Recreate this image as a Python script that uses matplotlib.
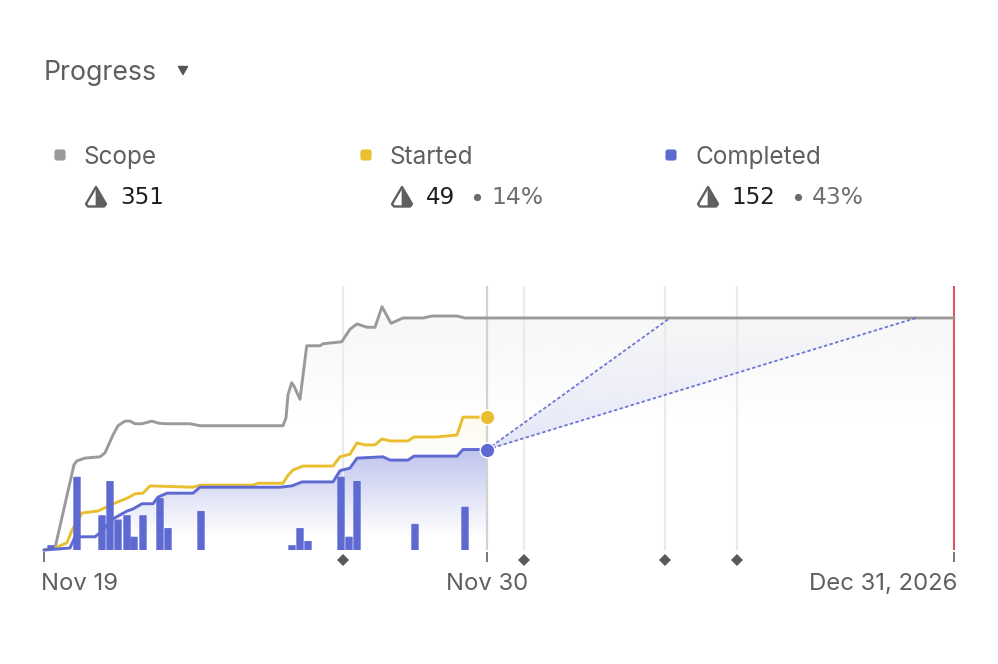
import numpy as np
import matplotlib
matplotlib.use("Agg")
import matplotlib.pyplot as plt
from matplotlib.patches import Polygon, FancyBboxPatch
from matplotlib.colors import LinearSegmentedColormap

plt.rcParams['font.family'] = ['Inter', 'DejaVu Sans']

# ---- data (x = position on the non-linear timeline)
scope_x = [44,55,74,77,85,100,105,113,118,125,130,135,142,152,158,165,190,200,283,286,288,291.7,294,300,306.7,320,323,341.7,350,357,367,375,382,391,403,423,432,457,465,954]
scope_y = [0,3,129,135,139,141,147,174,188,195,195,191,191,195,192,191,191,188,188,200,235,253,248,228,309,309,312,315,334,342,337,337,368,343,351,351,354,354,351,351]
started_x = [44,58,67,72,82,98,115,128,135,143,150,193,200,253,258,283,288,293,303,333,340,350,357,365,375,382,390,408,414,437,457,463,487]
started_y = [0,5,11,30,56,59,71,79,85,86,97,95,98,98,101,101,113,121,127,127,141,145,162,159,159,168,165,165,171,171,174,201,201]
completed_x = [44,70,75,95,100,113,127,133,142,153,158,167,193,200,280,292,302,333,340,350,357,383,390,408,414,457,463,487]
completed_y = [0,3,20,20,26,47,59,62,70,70,80,86,86,95,95,97,103,103,120,124,139,141,136,136,142,142,152,152]
bar_x = [51,77,102,110,118,127,134,143,160,168,201,292,300,308,341,349,357,415,465]
bar_v = [1,17,8,16,7,8,3,8,12,5,9,1,5,2,17,3,16,6,10]
milestones = [343,524,665,737]
today = 487
start = 44
end = 954
proj_fast_x = 670
proj_slow_x = 916
total = 351
tick_pos = [44,487,954]
tick_lbl = ['Nov 19','Nov 30','Dec 31, 2026']
legend_names = ['Scope','Started','Completed']
legend_vals = ['351','49','152']
legend_pcts = [None,'14%','43%']

GREY='#9a9a9a'; YEL='#e9bf2f'; BLUE='#5e6ad2'; RED='#e0585c'; TXT='#5f5f5f'

W,H=998,664
fig=plt.figure(figsize=(W/100,H/100),dpi=100,facecolor='white')
ax=fig.add_axes([44/W,1-550/H,(954-44)/W,264/H])
ymax=264/0.661
ax.set_xlim(44,954); ax.set_ylim(0,ymax); ax.axis('off')
ax2=ax.twinx(); ax2.set_ylim(0,264/4.28); ax2.axis('off')

def grad(a,xs,ys,color,a_hi,a_lo,y_hi,y_lo,z):
    """vertical alpha gradient: a_hi at value y_hi, a_lo at value y_lo"""
    c=matplotlib.colors.to_rgb(color)
    cm=LinearSegmentedColormap.from_list('g',[(*c,a_hi),(*c,a_lo)])
    im=a.imshow(np.linspace(0,1,128)[:,None],extent=(44,954,y_lo,y_hi),aspect='auto',cmap=cm,
                vmin=0,vmax=1,zorder=z,origin='upper')
    p=Polygon(list(zip(xs,ys)),closed=True,transform=a.transData,fc='none',ec='none')
    a.add_patch(p); im.set_clip_path(p)
    a.set_xlim(44,954); a.set_ylim(0,ymax)

grad(ax,[44]+scope_x+[954],[0]+scope_y+[0],'#8a8a8a',0.07,0,351,190,1)
grad(ax,started_x+completed_x[::-1],started_y+completed_y[::-1],YEL,0.08,0,201,130,1.5)
grad(ax,completed_x+[487,44],completed_y+[0,0],BLUE,0.40,0,152,20,2)
grad(ax,[today,proj_fast_x,proj_slow_x],[152,total,total],BLUE,0.0,0.17,351,152,2)

for m in milestones:
    ax.plot([m,m],[0,ymax],color='#ebebeb',lw=1.6,zorder=2.5,solid_capstyle='butt')
ax.plot([today,today],[0,ymax],color='#d2d2d2',lw=1.6,zorder=2.5,solid_capstyle='butt')
ax.plot([end,end],[0,ymax],color=RED,lw=1.5,zorder=3,solid_capstyle='butt',clip_on=False)

kw=dict(lw=2.1,solid_joinstyle='round',solid_capstyle='round',clip_on=False)
ax.plot(scope_x,scope_y,color=GREY,zorder=4,**kw)
ax.plot(started_x,started_y,color=YEL,zorder=4,**kw)
ax.plot(completed_x,completed_y,color=BLUE,zorder=4.5,**kw)
for px in (proj_fast_x,proj_slow_x):
    ax.plot([today,px],[152,total],color=BLUE,lw=1.3,ls=(0,(1.9,1.3)),alpha=0.9,zorder=4)
ax.plot([today],[201],'o',ms=10.5,mfc=YEL,mec='white',mew=1,zorder=6,clip_on=False)
ax.plot([today],[152],'o',ms=10.5,mfc=BLUE,mec='white',mew=1,zorder=6,clip_on=False)

ax2.set_zorder(ax.get_zorder()+1); ax2.patch.set_visible(False)
bars=ax2.bar(bar_x,bar_v,width=6.3,color=BLUE,edgecolor=BLUE,lw=0.7,joinstyle='round',zorder=5)
for b in bars:
    b.set_snap(False)

ov=fig.add_axes([0,0,1,1],facecolor='none'); ov.set_xlim(0,W); ov.set_ylim(H,0); ov.axis('off')
ov.set_zorder(10)
ov.text(44,79.5,'Progress',fontsize=19.2,color=TXT,va='baseline',ha='left')
ov.add_patch(Polygon([(178.5,66.5),(187.5,66.5),(183,74.5)],closed=True,fc='#555555',ec='#555555',lw=1,joinstyle='round'))

def icon(x,y):
    pts=[(x+11,y+1),(x+1,y+18),(x+3,y+20.5),(x+19,y+20.5),(x+21,y+18)]
    ov.add_patch(Polygon(pts,closed=True,fc='white',ec='#5f5f5f',lw=1.7,joinstyle='round'))
    ov.add_patch(Polygon([(x+11,y+1),(x+21,y+18),(x+19,y+20.5),(x+11,y+20.5)],closed=True,fc='#5f5f5f',ec='#5f5f5f',lw=0.5))

for x0,sw,c,n,v,p,vx,dx in zip([84,390,696],[60,366,671],[GREY,YEL,BLUE],legend_names,legend_vals,legend_pcts,[120,426,731],[None,477,798]):
    ov.add_patch(FancyBboxPatch((sw-5,150),10,10,boxstyle='round,pad=0,rounding_size=2',fc=c,ec=c,lw=0.8))
    ov.text(x0,164,n,fontsize=17.5,color=TXT,va='baseline',ha='left')
    icon(x0+1,186)
    ov.text(vx,204,v,fontsize=16.6,family='DejaVu Sans',color='#1d1d1f',va='baseline',ha='left')
    if p:
        ov.plot([dx],[197],'o',ms=5.2,color='#6b6b6b',mew=0)
        ov.text(dx+14,204,p,fontsize=16.8,family='DejaVu Sans',color='#6f6f6f',va='baseline',ha='left')

for t in tick_pos:
    ov.plot([t,t],[552,562],color='#555555',lw=1.1,solid_capstyle='butt')
for m in milestones:
    ov.plot([m],[560],marker='D',ms=6.4,color='#5a5a5a',mew=0)
ov.text(41,590,tick_lbl[0],fontsize=17.2,color=TXT,va='baseline',ha='left')
ov.text(487.5,590,tick_lbl[1],fontsize=17.2,color=TXT,va='baseline',ha='center')
ov.text(957,590,tick_lbl[2],fontsize=17.2,color=TXT,va='baseline',ha='right')

fig.savefig('out.png',dpi=100)
